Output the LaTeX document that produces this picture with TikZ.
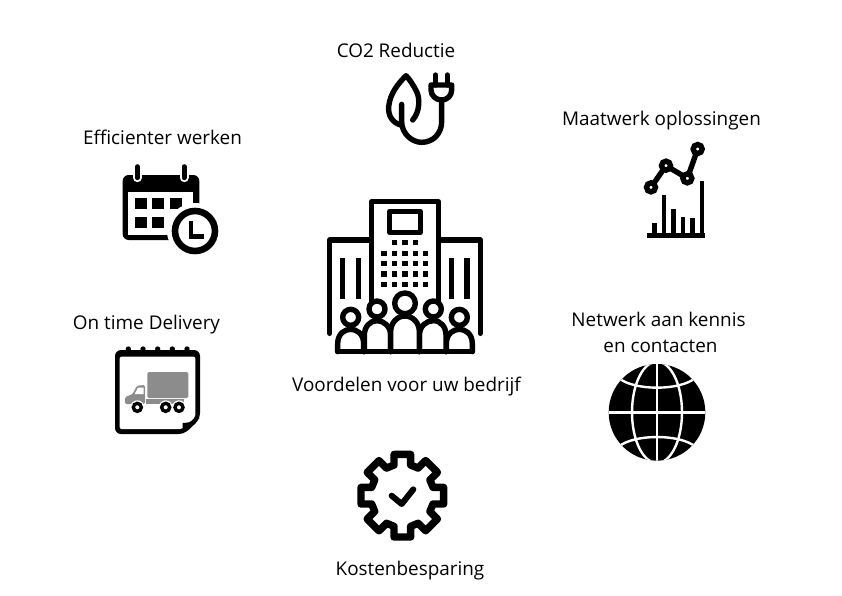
\documentclass[tikz,border=0pt]{standalone}
\usepackage{fontspec}
\setmainfont{Open Sans}
\usetikzlibrary{calc}
\definecolor{truckgrey}{HTML}{8C8C8C}
\tikzset{
  lbl/.style={font=\fontsize{18.9}{22}\selectfont,anchor=base,inner sep=0pt,text=black},
  thick stroke/.style={draw=black,line width=5.4pt,line join=round,line cap=round},
  zoomed/.style={shift={(#1)},scale=1/3},
}
\begin{document}
\begin{tikzpicture}[x=1pt,y=-1pt]
\useasboundingbox (0,0) rectangle (842,595);
% ---------- labels
\node[lbl] (co2) at (396,57) {CO2 Reductie};
\node[lbl] (maat) at (661.5,125) {Maatwerk oplossingen};
\node[lbl] (eff) at (162.5,144) {Efficienter werken};
\node[lbl] (ontime) at (146.5,329) {On time Delivery};
\node[lbl] (netw) at (658.5,326) {Netwerk aan kennis};
\node[lbl] (encon) at (660.5,352) {en contacten};
\node[lbl] (voor) at (406.5,391) {Voordelen voor uw bedrijf};
\node[lbl] (kost) at (410,575) {Kostenbesparing};
% ---------- central building
\begin{scope}[zoomed={320,190}]
  \draw[thick stroke,fill=white] (29,430) -- (29,150) -- (155,150);
  \draw[thick stroke,fill=white] (481,430) -- (481,150) -- (355,150);
  \draw[thick stroke,fill=white] (155,345) -- (155,35) -- (355,35) -- (355,345);
  \draw[thick stroke] (209,64) rectangle (301,127);
  \foreach \c in {223,255,286} \fill (\c-8,150) rectangle +(16,16);
  \foreach \r in {190,221,252,283} \foreach \c in {192,223,255,286,317}
    \fill (\c-8,\r-8) rectangle +(16,16);
  \foreach \c in {68,115,395,441} \fill (\c-8,205) rectangle +(16,123);
  % people
  \foreach \c/\w in {92/1,418/1}{
    \draw[thick stroke,fill=white] (\c,382) circle (24);
  }
  \draw[thick stroke,fill=white] (53,485) -- (53,462) .. controls (53,430) and (75,418) .. (92,418) .. controls (109,418) and (131,430) .. (131,462) -- (131,485);
  \draw[thick stroke,fill=white] (379,485) -- (379,462) .. controls (379,430) and (401,418) .. (418,418) .. controls (435,418) and (457,430) .. (457,462) -- (457,485);
  \foreach \c in {171,340}{
    \draw[thick stroke,fill=white] (\c,357) circle (24);
  }
  \draw[thick stroke,fill=white] (133,485) -- (133,436) .. controls (133,410) and (150,392) .. (171,392) .. controls (192,392) and (212,410) .. (212,436) -- (212,485);
  \draw[thick stroke,fill=white] (298,485) -- (298,436) .. controls (298,410) and (318,392) .. (340,392) .. controls (362,392) and (378,410) .. (378,436) -- (378,485);
  \draw[thick stroke,fill=white] (255,340) circle (31);
  \draw[thick stroke,fill=white] (212,485) -- (212,425) .. controls (212,398) and (232,378) .. (255,378) .. controls (278,378) and (298,398) .. (298,425) -- (298,485);
  \draw[thick stroke] (53,485) -- (457,485);
\end{scope}
% ---------- leaf and plug
\begin{scope}[zoomed={370,65}]
  \draw[thick stroke] (128,165) .. controls (150,140) and (150,100) .. (140,80) .. controls (130,60) and (118,42) .. (108,32)
     .. controls (85,55) and (60,85) .. (56,125) .. controls (54,150) and (65,172) .. (92,180);
  \draw[thick stroke] (95,118) -- (95,170) .. controls (95,205) and (125,232) .. (155,232) .. controls (190,232) and (215,205) .. (215,170) -- (215,105);
  \draw[thick stroke] (183,60) -- (245,60) -- (245,75) .. controls (245,92) and (232,105) .. (215,105) .. controls (198,105) and (183,92) .. (183,75) -- cycle;
  \draw[thick stroke] (197,30) -- (197,60);
  \draw[thick stroke] (232,30) -- (232,60);
\end{scope}
% ---------- chart
\begin{scope}[zoomed={630,130}]
  \draw[thick stroke] (63,172) -- (108,107) -- (172,145) -- (203,57);
  \foreach \p in {(63,172),(108,107),(172,145),(203,57)}
    \draw[draw=black,line width=5.4pt,fill=white] \p circle (13.5);
  \fill (50,310) rectangle (225,324);
  \fill (67,280) rectangle (81,310);
  \fill (95,195) rectangle (109,310);
  \fill (123,238) rectangle (138,310);
  \fill (152,260) rectangle (166,310);
  \fill (181,265) rectangle (195,310);
  \fill (209,152) rectangle (223,310);
\end{scope}
% ---------- calendar with clock
\begin{scope}[zoomed={110,155}]
  \fill[rounded corners=6pt] (38,60) rectangle (268,255);
  \fill[white] (55,112) rectangle (250,240);
  \foreach \c in {82,222}{
    \draw[white,line width=9pt,line cap=round] (\c,40) -- (\c,68);
    \draw[black,line width=5pt,line cap=round] (\c,35) -- (\c,68);
  }
  \foreach \c in {75,127,180} \fill (\c,130) rectangle +(35,33);
  \foreach \c in {75,127} \fill (\c,185) rectangle +(35,33);
  \fill[white] (255,228) circle (84);
  \draw[black,line width=6.6pt,fill=white] (255,228) circle (60);
  \draw[black,line width=4.6pt,line join=miter] (243,198) -- (243,245) -- (282,245);
\end{scope}
% ---------- truck calendar
\begin{scope}[zoomed={105,335}]
  \foreach \c in {70,114,158,202,246} \fill (\c,42) circle (8);
  \fill[rounded corners=6pt] (30,45) -- (285,45) -- (285,252) -- (238,297) -- (30,297) -- cycle;
  \fill[white,rounded corners=2pt] (44,65) -- (271,65) -- (271,246) -- (232,282) -- (44,282) -- cycle;
  \fill (233,296) -- (233,264) .. controls (250,264) and (270,258) .. (285,248) -- cycle;
  \fill[truckgrey,rounded corners=1.5pt] (127,111) rectangle (250,189);
  \fill[truckgrey] (122,192) rectangle (238,207);
  \fill[truckgrey,rounded corners=1.5pt] (60,207) -- (60,186) -- (82,178) -- (96,152) -- (120,150) -- (120,207) -- cycle;
  \fill[white] (89,177) -- (99,158) -- (116,158) -- (116,177) -- cycle;
  \foreach \c in {97,182,222}{
    \fill[white] (\c,217) circle (21);
    \draw[black,line width=3.4pt,fill=white] (\c,217) circle (12);
  }
\end{scope}
% ---------- globe
\begin{scope}[zoomed={600,355}]
  \fill (171,172) circle (145);
  \begin{scope}
    \clip (171,172) circle (145);
    \draw[white,line width=2.4pt] (20,172) -- (322,172);
    \draw[white,line width=2.4pt] (171,20) -- (171,322);
    \draw[white,line width=2.4pt] (171,172) ellipse (75 and 152);
    \draw[white,line width=2.4pt] (55,68) .. controls (100,108) and (242,108) .. (287,68);
    \draw[white,line width=2.4pt] (55,276) .. controls (100,236) and (242,236) .. (287,276);
  \end{scope}
\end{scope}
% ---------- gear
\begin{scope}[zoomed={350,445}]
  \draw[draw=black,line width=7.4pt,line join=round]
    (157,152) ++(-25,-124) coordinate (g0)
    (g0)
    \foreach \a in {0,45,...,315}{
      -- ($(157,152)+({-25*cos(\a)+124*sin(\a)},{-25*sin(\a)-124*cos(\a)})$)
      -- ($(157,152)+({25*cos(\a)+124*sin(\a)},{25*sin(\a)-124*cos(\a)})$)
      -- ($(157,152)+({25*cos(\a)+92*sin(\a)},{25*sin(\a)-92*cos(\a)})$)
      -- ($(157,152)+({-25*cos(\a+45)+92*sin(\a+45)},{-25*sin(\a+45)-92*cos(\a+45)})$)
    } -- cycle;
  \draw[black,line width=6pt,line cap=round,line join=round] (125,152) -- (155,177) -- (190,133);
\end{scope}
\end{tikzpicture}
\end{document}
